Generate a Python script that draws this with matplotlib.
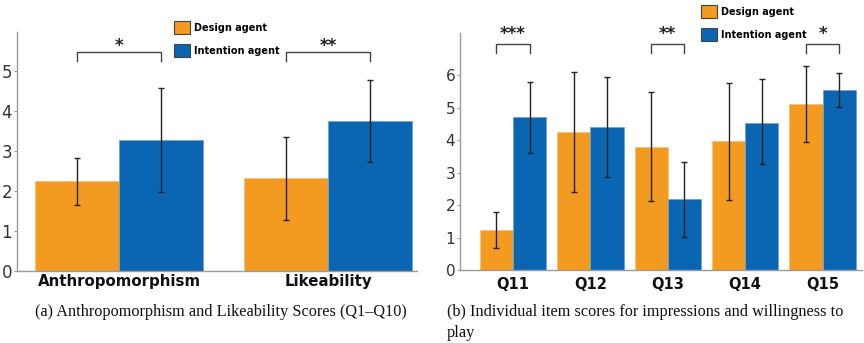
import matplotlib
matplotlib.use("Agg")
import matplotlib.pyplot as plt
from matplotlib.patches import Patch
import numpy as np

# ---- data ----
left_categories = ["Anthropomorphism", "Likeability"]
left_design = [2.25, 2.32]
left_design_err_lo = [1.65, 1.27]
left_design_err_hi = [2.83, 3.35]
left_intent = [3.27, 3.75]
left_intent_err_lo = [1.98, 2.73]
left_intent_err_hi = [4.56, 4.77]
left_sig = ["*", "**"]

right_categories = ["Q11", "Q12", "Q13", "Q14", "Q15"]
right_design = [1.23, 4.25, 3.80, 3.96, 5.10]
right_design_err_lo = [0.68, 2.40, 2.11, 2.15, 3.93]
right_design_err_hi = [1.79, 6.10, 5.49, 5.75, 6.27]
right_intent = [4.70, 4.41, 2.20, 4.54, 5.55]
right_intent_err_lo = [3.60, 2.86, 1.03, 3.26, 5.03]
right_intent_err_hi = [5.78, 5.94, 3.34, 5.88, 6.06]
right_sig = {0: "***", 2: "**", 4: "*"}

series_names = ["Design agent", "Intention agent"]
left_yticks = [0, 1, 2, 3, 4, 5]
right_yticks = [0, 1, 2, 3, 4, 5, 6]
captions = ["(a) Anthropomorphism and Likeability Scores (Q1\u2013Q10)",
            "(b) Individual item scores for impressions and willingness to\nplay"]

ORANGE = "#F39A21"
BLUE = "#0A66B2"
SPINE = "#9a9a9a"
TXT = "#333333"

fig = plt.figure(figsize=(8.64, 3.43), dpi=100)


def style_axes(ax, yticks, cats, tick_fs, cat_fs, xpad):
    for s in ["top", "right"]:
        ax.spines[s].set_visible(False)
    for s in ["left", "bottom"]:
        ax.spines[s].set_color(SPINE)
        ax.spines[s].set_linewidth(1.0)
    ax.set_yticks(yticks)
    ax.set_yticklabels([str(t) for t in yticks], fontsize=tick_fs, color=TXT,
                       family="DejaVu Sans")
    ax.tick_params(axis="y", length=2.5, width=0.8, color=SPINE, pad=1)
    ax.set_xticks(np.arange(len(cats)))
    ax.set_xticklabels(cats, fontsize=cat_fs, fontweight="bold", color="#111111",
                       family="DejaVu Sans")
    ax.tick_params(axis="x", length=0, pad=xpad)


def draw(ax, d, dlo, dhi, it, ilo, ihi, w):
    x = np.arange(len(d))
    d = np.array(d); it = np.array(it)
    derr = [d - np.array(dlo), np.array(dhi) - d]
    ierr = [it - np.array(ilo), np.array(ihi) - it]
    ax.bar(x - w / 2, d, w, color=ORANGE, edgecolor="#f7c27a", linewidth=0.6, zorder=2)
    ax.bar(x + w / 2, it, w, color=BLUE, edgecolor="#6fa3d6", linewidth=0.6, zorder=2)
    ek = dict(ecolor="#222222", elinewidth=1.0, capsize=2.5, capthick=1.0, zorder=3)
    ax.errorbar(x - w / 2, d, yerr=derr, fmt="none", **ek)
    ax.errorbar(x + w / 2, it, yerr=ierr, fmt="none", **ek)
    return x


def bracket(ax, x0, x1, ytop, ybot, label, ystar, fs):
    ax.plot([x0, x0, x1, x1], [ybot, ytop, ytop, ybot], color="#444444", lw=1.0,
            clip_on=False, zorder=4)
    ax.text((x0 + x1) / 2, ystar, label, ha="center", va="center", fontsize=fs,
            fontweight="bold", color="#222222", clip_on=False)


def legend(ax, x_px, y_px):
    ax.legend(handles=[Patch(facecolor=ORANGE, edgecolor="#444444", linewidth=0.8),
                       Patch(facecolor=BLUE, edgecolor="#444444", linewidth=0.8)],
              labels=series_names, loc="upper left",
              bbox_to_anchor=(x_px / 864, 1 - y_px / 343), bbox_transform=fig.transFigure,
              frameon=False, handlelength=1.6, handleheight=1.75, handletextpad=0.5,
              labelspacing=0.95, prop=dict(family="DejaVu Sans", weight="bold", size=7.0),
              borderaxespad=0, borderpad=0)


# ---- left panel ----
axL = fig.add_axes([17 / 864, 1 - 271 / 343, 400 / 864, 239 / 343])
wL = 0.4
xl = draw(axL, left_design, left_design_err_lo, left_design_err_hi,
          left_intent, left_intent_err_lo, left_intent_err_hi, wL)
axL.set_xlim(-0.488, 1.426)
axL.set_ylim(0, 5.97)
style_axes(axL, left_yticks, left_categories, 12, 10.8, 2)
for i, s in enumerate(left_sig):
    bracket(axL, xl[i] - wL / 2, xl[i] + wL / 2, 5.47, 5.25, s, 5.62, 12)
legend(axL, 174, 21)

# ---- right panel ----
axR = fig.add_axes([460 / 864, 1 - 270 / 343, 402 / 864, 237 / 343])
wR = 0.43
xr = draw(axR, right_design, right_design_err_lo, right_design_err_hi,
          right_intent, right_intent_err_lo, right_intent_err_hi, wR)
axR.set_xlim(-0.686, 4.51)
axR.set_ylim(0, 7.3)
style_axes(axR, right_yticks, right_categories, 11, 10.5, 5)
for i, s in right_sig.items():
    bracket(axR, xr[i] - wR / 2, xr[i] + wR / 2, 6.95, 6.68, s, 7.26, 12)
legend(axR, 701, 5)

# ---- captions ----
fig.text(35 / 864, 1 - 312 / 343, captions[0], ha="left", va="center",
         family="Liberation Serif", fontsize=11.7, color="#111111")
fig.text(447 / 864, 1 - 304 / 343, captions[1], ha="left", va="top",
         family="Liberation Serif", fontsize=11.7, color="#111111", linespacing=1.45)

fig.savefig("out.png", dpi=100)
